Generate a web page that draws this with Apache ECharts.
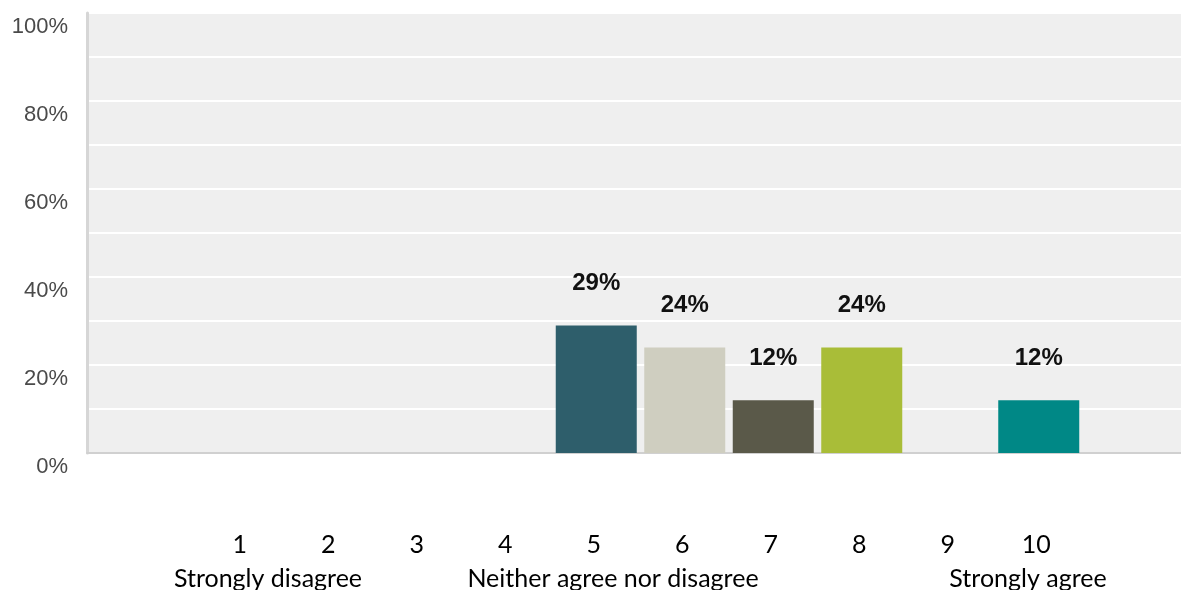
<!DOCTYPE html>
<html>
<head>
<meta charset="utf-8">
<title>Survey responses</title>
<script src="https://cdn.jsdelivr.net/npm/echarts@6/dist/echarts.min.js"></script>
<style>
  html, body { margin: 0; padding: 0; background: #ffffff; }
  #chart { width: 1181px; height: 590px; }
</style>
</head>
<body>
<div id="chart"></div>
<script>
// Agreement scale 1..10 and share of respondents (%) for each point
const scalePoints = ['1', '2', '3', '4', '5', '6', '7', '8', '9', '10'];
const shares = [0, 0, 0, 0, 29, 24, 12, 24, 0, 12];
const barColors = ['#2e5e6b', '#2e5e6b', '#2e5e6b', '#2e5e6b', '#2e5e6b', '#cfcec0', '#5a5949', '#a9bd38', '#008886', '#008886'];
const yTicks = [0, 20, 40, 60, 80, 100];
const anchorLabels = [
  { text: 'Strongly disagree', at: 268 },
  { text: 'Neither agree nor disagree', at: 613 },
  { text: 'Strongly agree', at: 1028 }
];

const chart = echarts.init(document.getElementById('chart'), null, { renderer: 'canvas' });

const plotTop = 13;
const plotBottom = 137;

chart.setOption({
  animation: false,
  backgroundColor: '#ffffff',
  grid: [
    // shaded plotting panel with the percentage axis
    { left: 87, right: 0, top: plotTop, bottom: plotBottom, show: true, backgroundColor: '#efefef', borderWidth: 0 },
    // area holding the ten scale points
    { left: 198, right: 98, top: plotTop, bottom: plotBottom }
  ],
  xAxis: [
    { gridIndex: 0, type: 'value', min: 0, max: 1, show: true,
      axisLine: { show: true, lineStyle: { color: '#d0d0d0', width: 2 } },
      axisTick: { show: false }, axisLabel: { show: false }, splitLine: { show: false } },
    { gridIndex: 1, type: 'category', data: scalePoints, boundaryGap: true,
      axisLine: { show: false }, axisTick: { show: false }, splitLine: { show: false },
      axisLabel: { margin: 79, fontFamily: 'Lato', fontSize: 25, color: '#000000', padding: [0, 5, 0, 0] } }
  ],
  yAxis: [
    { gridIndex: 0, type: 'value', min: 0, max: 100, interval: 10,
      axisLine: { show: true, lineStyle: { color: '#d6d6d6', width: 3 } },
      axisTick: { show: false },
      splitLine: { show: true, lineStyle: { color: '#ffffff', width: 2 } },
      axisLabel: {
        margin: 19, fontFamily: 'Liberation Sans', fontSize: 22, color: '#4a4a4a',
        verticalAlign: 'top', padding: [3, 0, 0, 0],
        formatter: v => (yTicks.indexOf(v) >= 0 ? v + '%' : '')
      } },
    { gridIndex: 1, type: 'value', min: 0, max: 100, interval: 10, show: false }
  ],
  series: [{
    type: 'bar',
    xAxisIndex: 1,
    yAxisIndex: 1,
    barWidth: 81,
    data: shares.map((v, i) => ({ value: v, itemStyle: { color: barColors[i] } })),
    label: {
      show: true,
      position: 'top',
      distance: 30,
      fontFamily: 'Liberation Sans',
      fontWeight: 'bold',
      fontSize: 24,
      color: '#111111',
      formatter: p => (p.value > 0 ? p.value + '%' : '')
    }
  }],
  graphic: anchorLabels.map(a => ({
    type: 'text',
    x: a.at,
    y: 566,
    style: { text: a.text, font: '25px Lato', fill: '#000000', textAlign: 'center', textVerticalAlign: 'top' }
  }))
});
</script>
</body>
</html>
